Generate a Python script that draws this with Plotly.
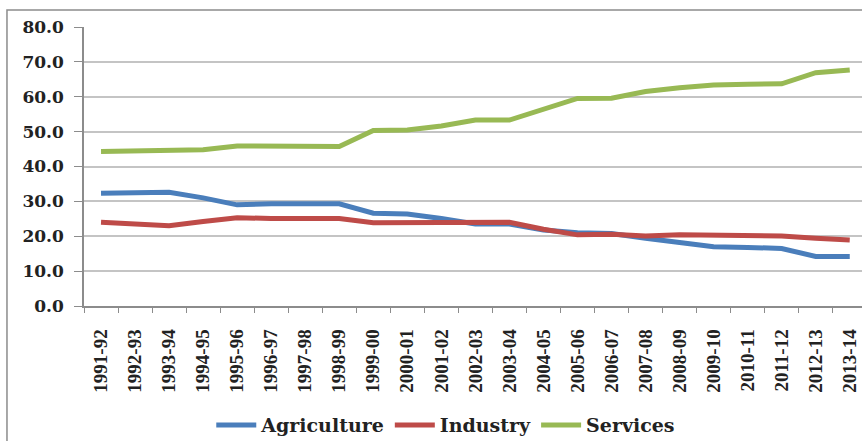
import plotly.graph_objects as go

years = ['1991-92', '1992-93', '1993-94', '1994-95', '1995-96', '1996-97', '1997-98',
         '1998-99', '1999-00', '2000-01', '2001-02', '2002-03', '2003-04', '2004-05',
         '2005-06', '2006-07', '2007-08', '2008-09', '2009-10', '2010-11', '2011-12',
         '2012-13', '2013-14']
agriculture = [32.3, 32.3, 32.6, 31.0, 29.0, 29.3, 29.3, 29.3, 26.6, 26.4, 25.1, 23.5,
               23.5, 21.8, 21.0, 20.8, 19.4, 18.2, 17.0, 16.8, 16.5, 14.2, 14.2]
industry = [24.0, 23.4, 23.0, 24.2, 25.3, 25.1, 25.1, 25.1, 23.9, 23.9, 24.2, 24.0,
            24.0, 22.0, 20.4, 20.6, 20.1, 20.4, 20.4, 20.3, 20.1, 19.4, 18.9]
services = [44.3, 44.5, 44.7, 44.8, 45.9, 45.9, 45.7, 45.7, 50.3, 50.5, 51.6, 53.3,
            53.3, 56.3, 59.5, 59.6, 61.5, 62.6, 63.4, 63.6, 63.7, 66.9, 67.7]
y_ticks = [0, 10, 20, 30, 40, 50, 60, 70, 80]
y_labels = ['0.0', '10.0', '20.0', '30.0', '40.0', '50.0', '60.0', '70.0', '80.0']

series = [('Agriculture', agriculture, '#4a7ebb'),
          ('Industry', industry, '#be4b48'),
          ('Services', services, '#98b954')]

fig = go.Figure()
for name, vals, col in series:
    fig.add_trace(go.Scatter(x=years, y=vals, name=name, mode='lines',
                             line=dict(color=col, width=5)))

fig.update_layout(
    width=862, height=441,
    margin=dict(l=84, r=0, t=27, b=135, autoexpand=False),
    plot_bgcolor='white', paper_bgcolor='white',
    showlegend=True,
    legend=dict(orientation='h', x=0.465, xanchor='center',
                yref='container', y=0.036, yanchor='middle',
                font=dict(family='DejaVu Serif', size=19, color='#222', weight='bold'),
                itemwidth=40, tracegroupgap=0, bgcolor='rgba(0,0,0,0)'),
    xaxis=dict(type='category', range=[-0.5, 22.36], showgrid=False,
               showline=True, linecolor='#8c8c8c', linewidth=1.5,
               ticks='outside', tickson='boundaries', ticklen=5, tickcolor='#8c8c8c',
               tickangle=-90, ticklabelstandoff=14, automargin=False,
               tickfont=dict(family='Liberation Serif', size=19, color='#222', weight='bold')),
    yaxis=dict(range=[0, 80], tickvals=y_ticks, ticktext=y_labels,
               showgrid=True, gridcolor='#c4c4c4', gridwidth=1.5,
               showline=True, linecolor='#8c8c8c', linewidth=1.5,
               ticks='outside', ticklen=8, tickcolor='#8c8c8c',
               zeroline=False, ticklabelstandoff=7, automargin=False,
               tickfont=dict(family='DejaVu Serif', size=17, color='#222', weight='bold')),
    shapes=[dict(type='rect', xref='paper', yref='paper',
                 x0=-0.099, x1=1.05, y0=-0.6, y1=1.061,
                 line=dict(color='#8c8c8c', width=1.5), fillcolor='rgba(0,0,0,0)',
                 layer='below')],
)

fig.write_html('out.html')
